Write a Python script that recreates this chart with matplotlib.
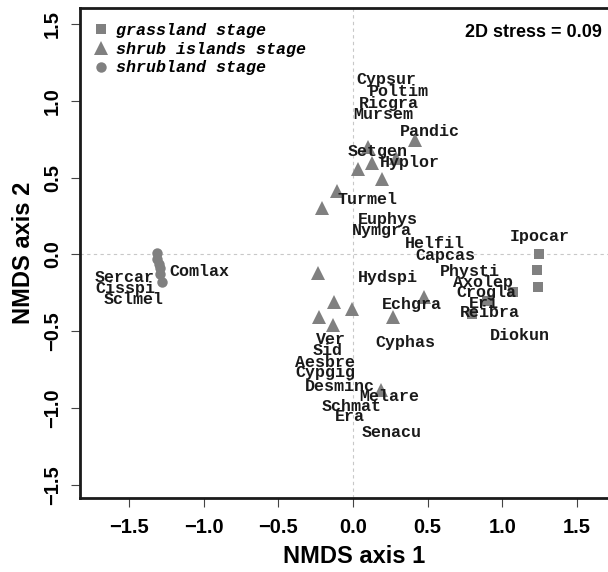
import matplotlib.pyplot as plt
from matplotlib.lines import Line2D

# site scores per stage
grass_x = [1.248, 1.23, 1.24, 1.07, 0.90, 0.80]
grass_y = [0.0, -0.10, -0.21, -0.245, -0.30, -0.39]

shrub_isl_x = [0.099, 0.415, 0.126, 0.036, 0.192, 0.29, -0.11, -0.21,
               -0.232, -0.127, -0.008, -0.23, -0.136, 0.266, 0.476, 0.19]
shrub_isl_y = [0.70, 0.745, 0.593, 0.554, 0.489, 0.63, 0.41, 0.30,
               -0.119, -0.31, -0.355, -0.405, -0.46, -0.41, -0.275, -0.88]

shrubland_x = [-1.31, -1.31, -1.30, -1.29, -1.29, -1.28]
shrubland_y = [0.01, -0.03, -0.06, -0.09, -0.13, -0.18]

# species scores
species = ['Cypsur', 'Poltim', 'Ricgra', 'Mursem', 'Pandic', 'Setgen', 'Hyplor',
           'Turmel', 'Euphys', 'Nymgra', 'Helfil', 'Ipocar', 'Capcas', 'Physti',
           'Axolep', 'Crogla', 'Eri', 'Reibra', 'Diokun', 'Hydspi', 'Echgra',
           'Cyphas', 'Comlax', 'Sercar', 'Cisspi', 'Sclmel', 'Ver', 'Sid',
           'Aesbre', 'Cypgig', 'Desminc', 'Melare', 'Schmat', 'Era', 'Senacu']
sp_x = [0.222, 0.304, 0.241, 0.203, 0.516, 0.163, 0.382,
        0.096, 0.236, 0.192, 0.55, 1.248, 0.621, 0.784,
        0.873, 0.896, 0.873, 0.918, 1.114, 0.232, 0.393,
        0.353, -1.029, -1.527, -1.527, -1.466, -0.149, -0.172,
        -0.187, -0.187, -0.087, 0.243, -0.009, -0.02, 0.26]
sp_y = [1.14, 1.06, 0.984, 0.908, 0.80, 0.668, 0.597,
        0.36, 0.229, 0.154, 0.072, 0.12, -0.004, -0.108,
        -0.18, -0.247, -0.318, -0.377, -0.53, -0.149, -0.325,
        -0.575, -0.108, -0.147, -0.22, -0.29, -0.553, -0.627,
        -0.702, -0.77, -0.861, -0.926, -0.987, -1.052, -1.158]

pt_col = '#808080'

fig = plt.figure(figsize=(6.08, 5.72), dpi=100)
# plot region runs past the right edge of the picture (cropped in the original)
ax = fig.add_axes([0.1308, 0.1294, 0.903, 0.8566])

ax.axhline(0, color='#c8c8c8', lw=0.8, ls=(0, (3, 3)), zorder=0)
ax.axvline(0, color='#c8c8c8', lw=0.8, ls=(0, (3, 3)), zorder=0)

ax.plot(grass_x, grass_y, 's', color=pt_col, ms=7.5, mew=0, zorder=2)
ax.plot(shrub_isl_x, shrub_isl_y, '^', color=pt_col, ms=10, mew=0, zorder=2)
ax.plot(shrubland_x, shrubland_y, 'o', color=pt_col, ms=7.5, mew=0, zorder=2)

for name, x, y in zip(species, sp_x, sp_y):
    ax.text(x, y, name, ha='center', va='center', family='Liberation Mono',
            fontweight='bold', fontsize=12, color='#1a1a1a', zorder=3)

ax.set_xlim(-1.8315, 1.845)
ax.set_ylim(-1.585, 1.604)
ax.set_xticks([-1.5, -1.0, -0.5, 0.0, 0.5, 1.0, 1.5])
ax.set_yticks([-1.5, -1.0, -0.5, 0.0, 0.5, 1.0, 1.5])
ax.set_xticklabels(['\u22121.5', '\u22121.0', '\u22120.5', '0.0', '0.5', '1.0', '1.5'],
                   family='Liberation Sans', fontweight='bold', fontsize=14.5)
ax.set_yticklabels(['\u22121.5', '\u22121.0', '\u22120.5', '0.0', '0.5', '1.0', '1.5'],
                   family='Liberation Sans', fontweight='bold', fontsize=14.5,
                   rotation=90, va='center')
ax.tick_params(direction='out', length=6.5, width=0.8, color='#444444')
ax.tick_params(axis='x', pad=8)
ax.tick_params(axis='y', pad=6)

for s in ax.spines.values():
    s.set_linewidth(2)
    s.set_color('#1a1a1a')

ax.set_xlabel('NMDS axis 1', family='Liberation Sans', fontweight='bold',
              fontsize=17, labelpad=6)
ax.set_ylabel('NMDS axis 2', family='Liberation Sans', fontweight='bold',
              fontsize=17, labelpad=6)

ax.text(0.951, 0.949, '2D stress = 0.09', transform=ax.transAxes, ha='right', va='center',
        family='Liberation Sans', fontweight='bold', fontsize=13)

handles = [Line2D([], [], ls='', marker='s', color=pt_col, ms=7.5, mew=0),
           Line2D([], [], ls='', marker='^', color=pt_col, ms=10, mew=0),
           Line2D([], [], ls='', marker='o', color=pt_col, ms=7.5, mew=0)]
ax.legend(handles, ['grassland stage', 'shrub islands stage', 'shrubland stage'],
          loc='upper left', bbox_to_anchor=(0.0, 1.0), frameon=False,
          prop={'family': 'Liberation Mono', 'weight': 'bold', 'style': 'italic', 'size': 12},
          handlelength=0.8, handletextpad=0.5, labelspacing=0.22, borderpad=0.4)

fig.savefig('out.png', dpi=100)
